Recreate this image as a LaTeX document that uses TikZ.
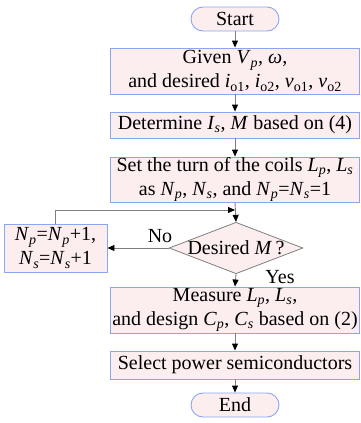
\documentclass[tikz,border=0pt]{standalone}
\usepackage{fontspec}
\setmainfont{Liberation Serif}
\usetikzlibrary{shapes.geometric,arrows.meta}
\definecolor{boxfill}{HTML}{FCEEEE}
\definecolor{boxline}{HTML}{8AA6F2}
\definecolor{conn}{HTML}{7F7F7F}
\newcommand{\vs}[2]{\textit{#1}\textsubscript{#2}}
\newcommand{\vsi}[2]{\textit{#1}\textsubscript{\textit{#2}}}
\begin{document}
\begin{tikzpicture}[x=1pt,y=-1pt,
  every node/.style={font=\fontsize{20}{24}\selectfont, inner sep=0pt, align=center},
  procbox/.style={draw=boxline, fill=boxfill, line width=0.9pt, minimum width=249pt},
  termbox/.style={draw=boxline, fill=boxfill, line width=0.9pt, rounded corners=12pt, minimum width=88pt, minimum height=24pt},
  decbox/.style={diamond, draw=conn, fill=boxfill, line width=0.8pt, minimum width=128pt, minimum height=49pt, aspect=2.6},
  flow/.style={draw=conn, line width=0.9pt, -{Triangle[black,length=7pt,width=6pt]}},
  lbl/.style={font=\fontsize{20}{24}\selectfont}]
\useasboundingbox (0,0) rectangle (360,423);
\node[termbox] (start) at (235,19) {Start};
\node[procbox, minimum height=46pt] (given) at (235,71) {Given \vsi{V}{p}, \textit{ω},\\and desired \vs{i}{o1}, \vs{i}{o2}, \vs{v}{o1}, \vs{v}{o2}};
\node[procbox, minimum height=26pt] (det) at (235,125) {Determine \vsi{I}{s}, \textit{M} based on (4)};
\node[procbox, minimum height=45pt] (set) at (235,179.5) {Set the turn of the coils \vsi{L}{p}, \vsi{L}{s}\\as \vsi{N}{p}, \vsi{N}{s}, and \vsi{N}{p}=\vsi{N}{s}=1};
\node[decbox] (dec) at (236,248) {Desired \textit{M}\,?};
\node[draw=boxline, fill=boxfill, line width=0.9pt, minimum width=103pt, minimum height=48pt] (inc) at (55.5,248) {\vsi{N}{p}=\vsi{N}{p}+1,\\\vsi{N}{s}=\vsi{N}{s}+1};
\node[procbox, minimum height=46pt] (meas) at (235,310) {Measure \vsi{L}{p}, \vsi{L}{s},\\and design \vsi{C}{p}, \vsi{C}{s} based on (2)};
\node[procbox, minimum height=28pt] (sel) at (235,365) {Select power semiconductors};
\node[termbox] (end) at (235,405) {End};
\coordinate (join) at (235,210);
\draw[flow] (start) -- (given);
\draw[flow] (given) -- (det);
\draw[flow] (det) -- (set);
\draw[flow] (set.south) -- (dec.north);
\draw[flow] (inc.north) |- (join);
\draw[flow] (dec.west) -- (inc.east);
\draw[flow] (dec.south) -- (meas.north);
\draw[flow] (meas) -- (sel);
\draw[flow] (sel) -- (end);
\node[lbl] (no) at (160,236) {No};
\node[lbl] (yes) at (280,277) {Yes};
\end{tikzpicture}
\end{document}
